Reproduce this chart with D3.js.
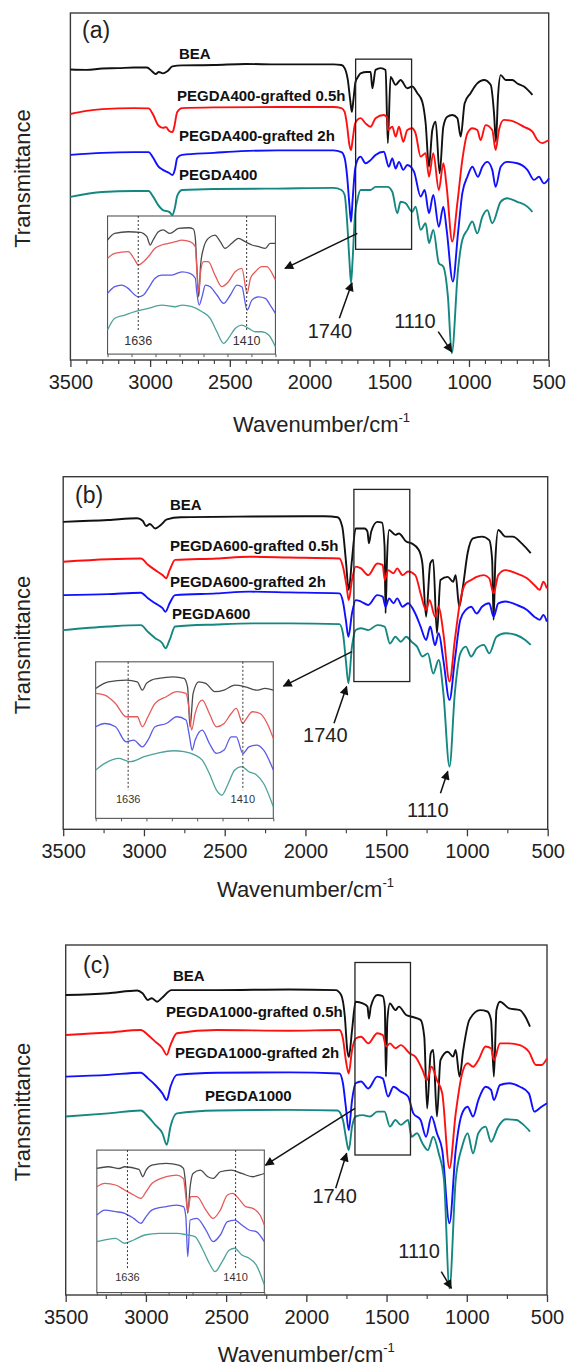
<!DOCTYPE html>
<html>
<head>
<meta charset="utf-8">
<script src="https://cdnjs.cloudflare.com/ajax/libs/d3/7.8.5/d3.min.js"></script>
<style>
  body { margin: 0; background: #fff; }
  text { font-family: 'Liberation Sans', Arial, sans-serif; }
</style>
</head>
<body>
<div id="chart"></div>
<script>
const majorTicks = [3500, 3000, 2500, 2000, 1500, 1000, 500]
const minorTicksA = [3400, 3300, 3200, 3100, 2900, 2800, 2700, 2600, 2400, 2300, 2200, 2100, 1900, 1800, 1700, 1600, 1400, 1300, 1200, 1100, 900, 800, 700, 600]
const minorTicksBC = [3250, 2750, 2250, 1750, 1250, 750]
const insetTicks = [1700, 1650, 1600, 1550, 1500, 1450, 1400, 1350]
const markedBands = [1636, 1410]
const panelTags = ['(a)', '(b)', '(c)']

const namesA = ['BEA', 'PEGDA400-grafted 0.5h', 'PEGDA400-grafted 2h', 'PEGDA400']
const namesB = ['BEA', 'PEGDA600-grafted 0.5h', 'PEGDA600-grafted 2h', 'PEGDA600']
const namesC = ['BEA', 'PEGDA1000-grafted 0.5h', 'PEGDA1000-grafted 2h', 'PEGDA1000']

// [wavenumber, transmittance a.u. (offset included)]
const aBEA = [[3500,83.7],[3400,83.6],[3300,84],[3200,84.1],[3100,84.3],[3020,84.3],[2990,83.3],[2965,82.4],[2945,83],[2920,82.6],[2890,83.3],[2860,84.6],[2800,84.9],[2600,85],[2400,85.3],[2200,85.2],[2000,85.2],[1850,85.2],[1800,85],[1780,84.1],[1760,80.7],[1745,74.9],[1735,71.5],[1725,74.9],[1712,80.1],[1696,81.6],[1680,82.6],[1640,83],[1617,83],[1606,78.3],[1586,83.6],[1554,84.1],[1523,83.6],[1509,62.5],[1492,81.6],[1460,79.3],[1429,80.7],[1387,78.3],[1356,78.8],[1324,76.9],[1293,74.4],[1272,68.3],[1251,55.7],[1230,66.3],[1209,68.7],[1184,53.8],[1161,67.2],[1136,70.1],[1105,70.6],[1073,69.7],[1052,64.4],[1027,74],[990,76.9],[948,79.7],[906,80.7],[864,79.3],[843,71.1],[831,62.9],[818,75.9],[801,82.1],[770,80.7],[728,80.7],[697,79.7],[655,78.8],[602,76.4]]
const aHalf = [[3500,70.9],[3400,71.8],[3300,72.3],[3100,72.6],[3010,72.5],[2980,70.6],[2950,67.7],[2920,66.9],[2900,67.1],[2880,66],[2860,65.7],[2850,66.9],[2830,71.5],[2800,72.6],[2600,72.8],[2200,72.9],[1850,72.9],[1800,72.6],[1780,71.5],[1765,67.7],[1750,62],[1740,60.5],[1730,63.4],[1715,68],[1700,69.2],[1680,69.7],[1649,68.2],[1617,67.2],[1586,69.7],[1534,70.6],[1512,69.7],[1509,66.3],[1481,67.2],[1460,64.4],[1439,67.2],[1412,62.9],[1387,66.3],[1356,66.8],[1335,65.3],[1303,58.6],[1272,59.6],[1251,52.8],[1224,59.6],[1189,49],[1161,56.7],[1140,49.9],[1105,34.1],[1073,45.2],[1042,57.6],[1010,65.3],[979,66.8],[948,66.3],[927,63.4],[896,67.7],[854,66.3],[833,60.5],[812,66.3],[781,69.2],[718,68.7],[655,67.2],[602,65.8],[571,63.4],[540,62.5],[519,62.9],[498,63.4]]
const aTwo = [[3500,59.1],[3300,59.7],[3100,59.9],[3010,59.9],[2980,58.2],[2950,55.9],[2920,54.8],[2880,53.9],[2860,53.3],[2845,54.8],[2830,58.2],[2800,59.1],[2600,59.7],[2430,60.2],[2200,60.4],[1850,60.4],[1800,59.9],[1780,58.2],[1765,53.3],[1750,44.7],[1740,39.8],[1730,46.1],[1715,54.8],[1700,57.6],[1680,58.6],[1649,56.7],[1617,57.6],[1586,59.1],[1534,60],[1503,55.7],[1481,58.1],[1460,55.2],[1439,57.1],[1412,54.8],[1387,56.2],[1345,54.3],[1303,47.1],[1278,49],[1251,42.3],[1224,47.6],[1189,38.4],[1161,44.2],[1140,37.5],[1101,22.6],[1069,36.5],[1042,48],[1010,52.8],[979,55.7],[944,52.8],[916,55.7],[885,57.1],[854,54.8],[833,49.9],[801,55.7],[760,57.1],[697,56.7],[634,54.8],[592,51.9],[561,52.8],[530,50.9],[498,52.4]]
const aPure = [[3500,47],[3300,48.4],[3100,48.7],[3010,48.7],[2980,47],[2950,44.7],[2920,43.2],[2880,42.7],[2860,41.8],[2845,43.8],[2830,47.3],[2800,49],[2600,49.3],[2200,49.4],[1850,49.6],[1800,49],[1780,47.6],[1765,40.3],[1750,28.8],[1740,22.2],[1730,28.8],[1715,41.8],[1700,46.1],[1680,49],[1617,49],[1586,49.9],[1512,49.9],[1481,48.5],[1450,42.3],[1429,45.6],[1398,45.2],[1356,42.7],[1335,44.2],[1303,37.5],[1272,39.4],[1251,33.7],[1224,37.5],[1189,27.9],[1161,26.9],[1132,18.2],[1108,1.9],[1069,25.9],[1042,34.6],[1010,37.5],[979,39.9],[948,36.5],[916,41.3],[885,43.2],[854,39.4],[801,45.6],[760,46.6],[697,45.6],[634,44.2],[602,42.7]]

const aInsetBEA = [[1700,82.6],[1685,87.4],[1657,88.6],[1632,88.2],[1618,85],[1611,79],[1605,82.6],[1594,88.6],[1584,89.9],[1570,87.4],[1552,91],[1531,91.5],[1521,90.6],[1517,83.8],[1514,64.5],[1510,41.5],[1506,64.5],[1500,76.6],[1490,83.8],[1476,86.2],[1465,81.4],[1455,76.6],[1441,80.2],[1427,83.8],[1413,81.4],[1399,79],[1385,77.8],[1371,76.6],[1361,80.2],[1350,80.2]]
const aInsetHalf = [[1700,69.3],[1685,73],[1657,74.2],[1643,68.1],[1636,64.5],[1625,66.9],[1615,70.5],[1601,76.6],[1587,79],[1573,80.2],[1559,81.4],[1545,82.6],[1528,81.4],[1517,77.8],[1514,62.1],[1510,45.1],[1506,59.6],[1500,66.9],[1490,66.9],[1476,57.2],[1462,48.8],[1448,52.4],[1434,59.6],[1420,62.1],[1409,44],[1402,54.9],[1392,59.6],[1378,63.3],[1368,63.3],[1357,58.5],[1350,53.6]]
const aInsetTwo = [[1700,44],[1685,48.8],[1671,50],[1657,47.6],[1643,42.8],[1636,41.5],[1625,42.8],[1615,47.6],[1601,54.9],[1587,57.2],[1566,57.2],[1545,59.6],[1528,58.5],[1517,54.9],[1514,45.1],[1509,35.5],[1503,41.5],[1496,50],[1486,48.8],[1472,42.8],[1458,36.7],[1444,42.8],[1430,50],[1420,48.8],[1409,31.9],[1399,39.1],[1385,41.5],[1371,40.4],[1361,35.5],[1350,29.5]]
const aInsetPure = [[1700,17.4],[1685,25.9],[1664,28.3],[1643,30.7],[1615,33.1],[1587,35.5],[1559,34.3],[1544,35.5],[1524,34.3],[1503,30.7],[1486,25.9],[1472,16.2],[1458,7.8],[1448,11.4],[1434,18.6],[1420,21],[1406,18.6],[1392,16.2],[1378,16.2],[1364,13.8],[1350,5.3]]

const bBEA = [[3500,87.2],[3221,87.7],[3042,88.2],[3008,87.5],[2986,86],[2963,86.6],[2930,85.3],[2896,86.3],[2858,87.9],[2773,88.5],[2326,88.7],[1879,88.8],[1801,88.5],[1772,85.8],[1750,76.4],[1732,67.9],[1712,76.4],[1689,85.3],[1633,85.3],[1616,84.4],[1607,81.1],[1593,84.4],[1555,87.2],[1526,87],[1510,80.2],[1504,61.3],[1495,76.4],[1482,84.9],[1443,83.5],[1421,83.9],[1376,81.6],[1343,81.1],[1298,79.2],[1276,75.4],[1253,60.3],[1227,75.4],[1209,76.4],[1186,55.6],[1164,70.7],[1119,71.6],[1086,70.2],[1070,72.1],[1048,63.1],[1025,68.8],[996,78.3],[963,82.5],[907,83],[862,82],[844,76.4],[835,59.4],[824,76.4],[806,84.9],[762,83],[717,83],[661,81.1],[605,78.3]]
const bHalf = [[3500,75.9],[3221,76.6],[3019,76.8],[2975,75],[2930,73.5],[2885,72.1],[2863,71.2],[2841,73.5],[2807,76.4],[2550,76.8],[2349,77.3],[2103,77.1],[1790,76.8],[1768,74.5],[1745,68.8],[1732,65],[1712,70.7],[1689,74.5],[1656,74],[1611,72.1],[1555,75.4],[1522,75],[1509,70.7],[1488,73.5],[1455,72.6],[1432,74],[1399,72.1],[1365,73.1],[1320,72.1],[1287,66.9],[1253,62.2],[1231,65],[1198,60.3],[1175,63.1],[1146,55.6],[1108,41.9],[1075,53.7],[1041,65],[1007,69.8],[974,70.7],[940,71.6],[895,72.1],[862,71.2],[835,66.9],[806,72.1],[762,73.5],[695,72.6],[628,71.2],[583,69.3],[549,67.9],[527,70.2],[505,68.3]]
const bTwo = [[3500,66.4],[3221,66.7],[3019,67.1],[2975,65.5],[2930,64.1],[2885,62.7],[2867,61.7],[2841,64.1],[2807,66.4],[2550,66.9],[2349,67.4],[2103,67.2],[1790,66.9],[1768,64.6],[1750,59.4],[1734,54.6],[1712,61.2],[1689,65],[1656,64.6],[1611,63.6],[1555,66.4],[1522,66],[1504,63.1],[1482,65.5],[1455,64.1],[1432,65.5],[1399,63.1],[1365,64.1],[1320,61.2],[1287,57.5],[1253,53.7],[1227,57.5],[1198,52.2],[1175,55.6],[1146,48],[1108,36.7],[1075,48],[1041,59.4],[1007,62.2],[974,63.1],[940,61.2],[907,63.1],[862,64.1],[835,60.3],[806,64.1],[762,64.6],[695,63.7],[628,62.2],[583,60.3],[549,59.4],[527,60.8],[505,58.9]]
const bPure = [[3500,56.5],[3221,57.5],[3019,57.9],[2975,56],[2930,54.2],[2885,52.7],[2867,51.3],[2841,53.7],[2807,57.5],[2550,58.1],[2326,58.4],[2103,58.4],[1790,58.2],[1768,55.6],[1750,48],[1734,41.4],[1712,51.8],[1689,56.5],[1656,57],[1611,56.5],[1555,57.9],[1510,57.5],[1477,52.7],[1443,54.6],[1410,53.2],[1376,54.6],[1343,53.2],[1309,51.8],[1276,49],[1242,49.9],[1209,44.2],[1175,48],[1146,38.6],[1108,17.8],[1075,38.6],[1041,49.9],[1007,51.8],[974,49],[940,51.3],[895,52.3],[862,49.9],[817,54.6],[762,55.6],[695,55.1],[639,53.7],[605,52.3]]

const bInsetBEA = [[1700,83],[1675,87.2],[1640,88.3],[1618,87.2],[1608,81.9],[1600,86.2],[1590,88.3],[1576,89.4],[1547,90.4],[1526,89.4],[1519,84],[1514,58.5],[1508,79.8],[1497,87.2],[1483,86.2],[1465,80.9],[1447,81.9],[1426,85.1],[1405,84],[1383,81.9],[1366,83],[1350,81.9]]
const bInsetHalf = [[1700,79.8],[1682,78.7],[1661,73.4],[1640,64.9],[1618,64.9],[1608,58.5],[1597,64.9],[1583,73.4],[1561,77.7],[1540,80.9],[1522,79.8],[1515,67],[1511,56.4],[1504,67],[1490,75.5],[1476,67],[1462,58.5],[1447,60.6],[1433,67],[1423,70.2],[1410,60.6],[1405,62.8],[1391,68.1],[1376,67],[1362,60.6],[1350,51.1]]
const bInsetTwo = [[1700,58.5],[1682,60.6],[1661,58.5],[1640,48.9],[1625,50],[1608,45.7],[1597,50],[1583,58.5],[1561,60.6],[1540,64.9],[1522,62.8],[1515,52.1],[1510,43.6],[1504,50],[1490,56.4],[1476,47.9],[1462,41.5],[1447,43.6],[1433,52.1],[1423,52.1],[1410,41.5],[1398,45.7],[1383,46.8],[1369,43.6],[1350,30.9]]
const bInsetPure = [[1700,30.9],[1682,35.1],[1654,38.3],[1632,36.2],[1604,39.4],[1576,41.9],[1547,43.2],[1526,42.6],[1504,40.4],[1490,37.2],[1476,28.7],[1462,18.1],[1451,14.9],[1440,21.3],[1426,30.9],[1412,33],[1398,29.8],[1383,27.7],[1369,22.3],[1350,7.4]]

const cBEA = [[3500,85.7],[3234,86.2],[3054,87],[3021,86.2],[2987,84.3],[2964,84.8],[2931,83.8],[2897,85],[2841,87.1],[2559,87.1],[2109,87.3],[1817,87.1],[1783,85.7],[1760,79.5],[1745,70],[1735,68],[1715,75.7],[1693,83.8],[1648,83.3],[1619,82.4],[1610,79],[1598,82.4],[1558,85.7],[1524,85.4],[1511,82.4],[1504,62.4],[1495,78.6],[1479,83.3],[1445,81.4],[1423,82.4],[1378,80],[1344,79.5],[1288,78.6],[1265,73.8],[1247,53.3],[1225,69],[1209,70],[1186,51],[1164,67.1],[1119,69.5],[1085,68.1],[1069,70],[1045,62.4],[1022,70],[984,78.6],[917,81.4],[872,81],[849,78.6],[831,62.4],[815,81.4],[793,83.8],[736,81.9],[669,81.4],[635,79.5],[606,76.7]]
const cHalf = [[3500,74.3],[3234,75],[3032,75.7],[2987,74.3],[2942,72.4],[2897,70.5],[2870,68.6],[2847,71.4],[2807,74.8],[2559,75.7],[2109,75.5],[1794,75.7],[1772,73.3],[1754,67.1],[1736,63.3],[1715,70],[1693,73.3],[1659,73.8],[1614,71.9],[1558,74.8],[1524,74.3],[1502,71],[1479,71.9],[1445,70.5],[1411,71.4],[1355,69],[1321,68.1],[1276,64.3],[1249,61.4],[1220,65.2],[1186,61.4],[1153,57.6],[1108,36.2],[1069,51.9],[1029,63.3],[995,66.2],[961,65.2],[928,67.1],[883,71],[849,70.5],[831,67.1],[793,71.9],[736,71.9],[669,71.4],[613,69.5],[568,65.7],[534,65.7],[500,67.6]]
const cTwo = [[3500,62.4],[3234,62.9],[3032,63.5],[2987,61.9],[2942,60],[2897,57.6],[2870,55.7],[2847,59.5],[2807,62.9],[2559,63.5],[2109,63.6],[1794,63.3],[1772,60.5],[1754,53.8],[1736,47.1],[1715,55.7],[1693,60.5],[1659,61],[1614,59],[1558,62.4],[1524,61.9],[1491,56.7],[1457,59.5],[1411,58.1],[1366,56.7],[1333,51.9],[1288,50],[1254,45.2],[1220,51],[1186,46.2],[1153,41.4],[1108,20.5],[1069,41.4],[1029,51.9],[995,53.8],[961,51],[928,55.7],[883,59.5],[849,58.6],[831,55.7],[793,60],[736,60.5],[669,59.5],[613,57.6],[579,52.4],[534,53.8],[500,54.8]]
const cPure = [[3500,51],[3234,51.9],[3032,52.7],[2987,51],[2942,48.6],[2897,46.2],[2870,42.9],[2847,48.1],[2807,51.9],[2559,52.7],[2109,52.9],[1806,52.7],[1772,50],[1754,45.2],[1736,41.4],[1715,48.1],[1693,51],[1648,51.4],[1603,51],[1558,52.4],[1513,52.4],[1479,48.1],[1445,50],[1411,48.6],[1366,50],[1344,45.2],[1310,46.2],[1276,43.3],[1243,41.4],[1209,45.2],[1175,40.5],[1142,32.9],[1108,1.9],[1069,32.9],[1029,42.4],[995,46.2],[961,40.5],[928,46.2],[883,48.1],[849,43.8],[804,48.1],[759,50.2],[691,50],[646,48.6],[606,46.7]]

const cInsetBEA = [[1700,87.1],[1676,88.3],[1653,87.1],[1642,88.3],[1612,86.4],[1604,81.3],[1597,86],[1585,89.5],[1555,90.7],[1529,89.5],[1519,87.1],[1514,74.3],[1510,55.6],[1505,74.3],[1499,83.6],[1484,86],[1468,81.3],[1457,80.1],[1442,84.8],[1419,86],[1397,83.6],[1374,81.3],[1361,82.5],[1350,83.6]]
const cInsetHalf = [[1700,74.3],[1683,76.6],[1661,75.5],[1642,72],[1623,68.5],[1608,66.1],[1597,70.8],[1585,76.6],[1555,81.3],[1533,82.5],[1519,80.1],[1514,67.3],[1510,56.8],[1504,67.3],[1491,67.3],[1472,57.9],[1457,52.1],[1442,57.9],[1427,68.5],[1416,69.6],[1404,66.1],[1389,60.3],[1374,59.1],[1359,54.4],[1350,47.4]]
const cInsetTwo = [[1700,54.4],[1683,57.9],[1661,56.8],[1642,55.6],[1623,52.1],[1608,48.6],[1597,53.3],[1585,57.9],[1555,60.3],[1533,61.4],[1519,60.3],[1514,53.3],[1510,25.2],[1505,50.9],[1491,52.1],[1472,43.9],[1457,35.7],[1442,40.4],[1427,49.8],[1412,50.9],[1397,47.4],[1382,43.9],[1367,42.8],[1350,35.7]]
const cInsetPure = [[1700,35.7],[1683,36.9],[1661,38.1],[1642,34.6],[1623,36.9],[1600,40.4],[1570,41.6],[1533,41.6],[1510,40.4],[1495,39.3],[1480,31.1],[1465,20.6],[1453,14.7],[1438,21.7],[1423,29.9],[1412,31.1],[1397,26.4],[1382,24.1],[1367,19.4],[1350,5.4]]

const lineColors = ['#111111', '#ff1010', '#1010ff', '#148781']
const insetColors = ['#4a4a4a', '#e65a5a', '#5a5ae8', '#4ea29c']

// page layout: frames in px, annotations in data units
const panels = [
  {
    key: 'a', tag: panelTags[0], names: namesA, series: [aBEA, aHalf, aTwo, aPure],
    insetSeries: [aInsetBEA, aInsetHalf, aInsetTwo, aInsetPure], minorTicks: minorTicksA,
    frame: { left: 70.4, right: 548.7, top: 13, bottom: 360 }, titleGap: 72,
    tagAt: [3427, 92.9], nameAt: [[2819, 86.7], [2831, 74.6], [2819, 63.1], [2819, 51.9]],
    box: [1711, 1360, 86.7, 31.9], inset: [3267, 2214, 41.5, 1.7],
    insetArrow: [[1700, 36.5], [2154, 26.4]], bandLabelV: 6.5, bandLineEnd: 17,
    label1740: [1872, 6.3], arrow1740: [[1813, 12], [1734, 22.2]],
    label1110: [1339, 9.2], arrow1110: [[1193, 8.2], [1109, 2.4]], bandFont: 12.5
  },
  {
    key: 'b', tag: panelTags[1], names: namesB, series: [bBEA, bHalf, bTwo, bPure],
    insetSeries: [bInsetBEA, bInsetHalf, bInsetTwo, bInsetPure], minorTicks: minorTicksBC,
    frame: { left: 63.2, right: 547.7, top: 476.7, bottom: 829.3 }, titleGap: 68,
    tagAt: [3427, 92.5], nameAt: [[2839, 90.6], [2839, 78.9], [2839, 68.7], [2826, 59.6]],
    box: [1700, 1354, 96.4, 41.9], inset: [3299, 2199, 47.5, 3.1],
    insetArrow: [[1712, 50.4], [2136, 40.6]], bandLabelV: 9.8, bandLineEnd: 18,
    label1740: [1877, 24.9], arrow1740: [[1823, 30.1], [1745, 40.5]],
    label1110: [1242, 3.4], arrow1110: [[1164, 10.2], [1119, 16.4]], bandFont: 11
  },
  {
    key: 'c', tag: panelTags[2], names: namesC, series: [cBEA, cHalf, cTwo, cPure],
    insetSeries: [cInsetBEA, cInsetHalf, cInsetTwo, cInsetPure], minorTicks: minorTicksBC,
    frame: { left: 65.7, right: 547, top: 945, bottom: 1295 }, titleGap: 67,
    tagAt: [3392, 92], nameAt: [[2831, 89.7], [2875, 79.4], [2819, 67.7], [2632, 55.4]],
    box: [1697, 1351, 95, 40], inset: [3306, 2262, 41.4, 0.7],
    insetArrow: [[1697, 53.3], [2255, 37.1]], bandLabelV: 8.2, bandLineEnd: 17,
    label1740: [1823, 26.2], arrow1740: [[1817, 30.5], [1749, 40.5]],
    label1110: [1297, 10.5], arrow1110: [[1159, 6.7], [1096, 1.9]], bandFont: 11
  }
]

document.addEventListener('DOMContentLoaded', () => {
  const svg = d3.select('#chart')
    .append('svg')
    .attr('width', 566)
    .attr('height', 1366)

  svg.append('defs')
    .append('marker')
    .attr('id', 'head')
    .attr('viewBox', '0 0 10 10')
    .attr('refX', 9)
    .attr('refY', 5)
    .attr('markerWidth', 7)
    .attr('markerHeight', 6)
    .attr('orient', 'auto')
    .append('path')
    .attr('d', 'M0,0L10,5L0,10z')
    .attr('fill', '#111')

  panels.forEach(panel => renderPanel(svg, panel))
})

renderPanel = (svg, panel) => {
  const { frame } = panel
  const x = d3.scaleLinear().domain([3500, 500]).range([frame.left, frame.right])
  const y = d3.scaleLinear().domain([0, 100]).range([frame.bottom, frame.top])
  const g = svg.append('g').attr('class', 'panel-' + panel.key)

  g.append('rect')
    .attr('x', frame.left)
    .attr('y', frame.top)
    .attr('width', frame.right - frame.left)
    .attr('height', frame.bottom - frame.top)
    .attr('fill', 'none')
    .attr('stroke', '#3a3a3a')
    .attr('stroke-width', 1.4)

  const minorAxis = g.append('g')
    .attr('transform', `translate(0,${frame.bottom})`)
    .call(d3.axisBottom(x).tickValues(panel.minorTicks).tickSize(4).tickFormat(''))
  minorAxis.select('.domain').remove()

  const majorAxis = g.append('g')
    .attr('transform', `translate(0,${frame.bottom})`)
    .call(d3.axisBottom(x).tickValues(majorTicks).tickSize(7).tickFormat(d3.format('d')))
  majorAxis.select('.domain').remove()
  majorAxis.selectAll('line').attr('stroke', '#3a3a3a').attr('stroke-width', 1.3)
  minorAxis.selectAll('line').attr('stroke', '#3a3a3a').attr('stroke-width', 1.1)
  majorAxis.selectAll('text')
    .attr('y', 29)
    .attr('dy', 0)
    .attr('fill', '#222')
    .style('font-size', '20px')
    .style('font-family', "'Liberation Sans', Arial, sans-serif")

  const titleX = (frame.left + frame.right) / 2 + (panel.key === 'a' ? 12 : 0)
  const title = g.append('text')
    .attr('x', titleX)
    .attr('y', frame.bottom + panel.titleGap)
    .attr('text-anchor', 'middle')
    .attr('fill', '#222')
    .style('font-size', '22px')
    .text('Wavenumber/cm')
  title.append('tspan')
    .attr('dy', -10)
    .style('font-size', '13px')
    .text('-1')

  const midY = (frame.top + frame.bottom) / 2 - 8
  g.append('text')
    .attr('transform', `translate(30,${midY}) rotate(-90)`)
    .attr('text-anchor', 'middle')
    .attr('fill', '#222')
    .style('font-size', '22px')
    .text('Transmittance')

  g.append('text')
    .attr('x', x(panel.tagAt[0]))
    .attr('y', y(panel.tagAt[1]))
    .attr('fill', '#222')
    .style('font-size', '23px')
    .text(panel.tag)

  const line = d3.line()
    .curve(d3.curveMonotoneX)
    .x(d => x(d[0]))
    .y(d => y(d[1]))

  g.selectAll('.spectrum')
    .data(panel.series)
    .enter()
    .append('path')
    .attr('class', 'spectrum')
    .attr('d', line)
    .attr('fill', 'none')
    .attr('stroke', (d, i) => lineColors[i])
    .attr('stroke-width', 1.9)
    .attr('stroke-linejoin', 'round')

  g.selectAll('.name')
    .data(panel.names)
    .enter()
    .append('text')
    .attr('class', 'name')
    .attr('x', (d, i) => x(panel.nameAt[i][0]))
    .attr('y', (d, i) => y(panel.nameAt[i][1]))
    .attr('fill', '#111')
    .style('font-size', '15px')
    .style('font-weight', 'bold')
    .text(d => d)

  const [bw0, bw1, bv0, bv1] = panel.box
  g.append('rect')
    .attr('x', x(bw0))
    .attr('y', y(bv0))
    .attr('width', x(bw1) - x(bw0))
    .attr('height', y(bv1) - y(bv0))
    .attr('fill', 'none')
    .attr('stroke', '#222')
    .attr('stroke-width', 1.3)

  const arrow = (from, to) => {
    g.append('line')
      .attr('x1', x(from[0]))
      .attr('y1', y(from[1]))
      .attr('x2', x(to[0]))
      .attr('y2', y(to[1]))
      .attr('stroke', '#111')
      .attr('stroke-width', 1.5)
      .attr('marker-end', 'url(#head)')
  }
  arrow(panel.insetArrow[0], panel.insetArrow[1])
  arrow(panel.arrow1740[0], panel.arrow1740[1])
  arrow(panel.arrow1110[0], panel.arrow1110[1])

  g.append('text')
    .attr('x', x(panel.label1740[0]))
    .attr('y', y(panel.label1740[1]))
    .attr('text-anchor', 'middle')
    .attr('fill', '#222')
    .style('font-size', '20px')
    .text('1740')

  g.append('text')
    .attr('x', x(panel.label1110[0]))
    .attr('y', y(panel.label1110[1]))
    .attr('text-anchor', 'middle')
    .attr('fill', '#222')
    .style('font-size', '20px')
    .text('1110')

  renderInset(g, panel, x, y)
}

renderInset = (g, panel, x, y) => {
  const [iw0, iw1, iv0, iv1] = panel.inset
  const left = x(iw0)
  const right = x(iw1)
  const top = y(iv0)
  const bottom = y(iv1)

  const xi = d3.scaleLinear().domain([1700, 1350]).range([left, right])
  const yi = d3.scaleLinear().domain([0, 100]).range([bottom, top])

  g.append('rect')
    .attr('x', left)
    .attr('y', top)
    .attr('width', right - left)
    .attr('height', bottom - top)
    .attr('fill', '#fff')
    .attr('stroke', '#555')
    .attr('stroke-width', 1.1)

  const ticks = g.append('g')
    .attr('transform', `translate(0,${bottom})`)
    .call(d3.axisBottom(xi).tickValues(insetTicks).tickSize(3).tickFormat(''))
  ticks.select('.domain').remove()
  ticks.selectAll('line').attr('stroke', '#555')

  const line = d3.line()
    .curve(d3.curveMonotoneX)
    .x(d => xi(d[0]))
    .y(d => yi(d[1]))

  g.selectAll('.inset-spectrum')
    .data(panel.insetSeries)
    .enter()
    .append('path')
    .attr('class', 'inset-spectrum')
    .attr('d', line)
    .attr('fill', 'none')
    .attr('stroke', (d, i) => insetColors[i])
    .attr('stroke-width', 1.3)

  markedBands.forEach(band => {
    g.append('line')
      .attr('x1', xi(band))
      .attr('x2', xi(band))
      .attr('y1', top)
      .attr('y2', yi(panel.bandLineEnd))
      .attr('stroke', '#333')
      .attr('stroke-width', 1)
      .attr('stroke-dasharray', '2,2')

    g.append('text')
      .attr('x', xi(band))
      .attr('y', yi(panel.bandLabelV))
      .attr('text-anchor', 'middle')
      .attr('fill', '#333')
      .style('font-size', panel.bandFont + 'px')
      .text(band)
  })
}
</script>
</body>
</html>
